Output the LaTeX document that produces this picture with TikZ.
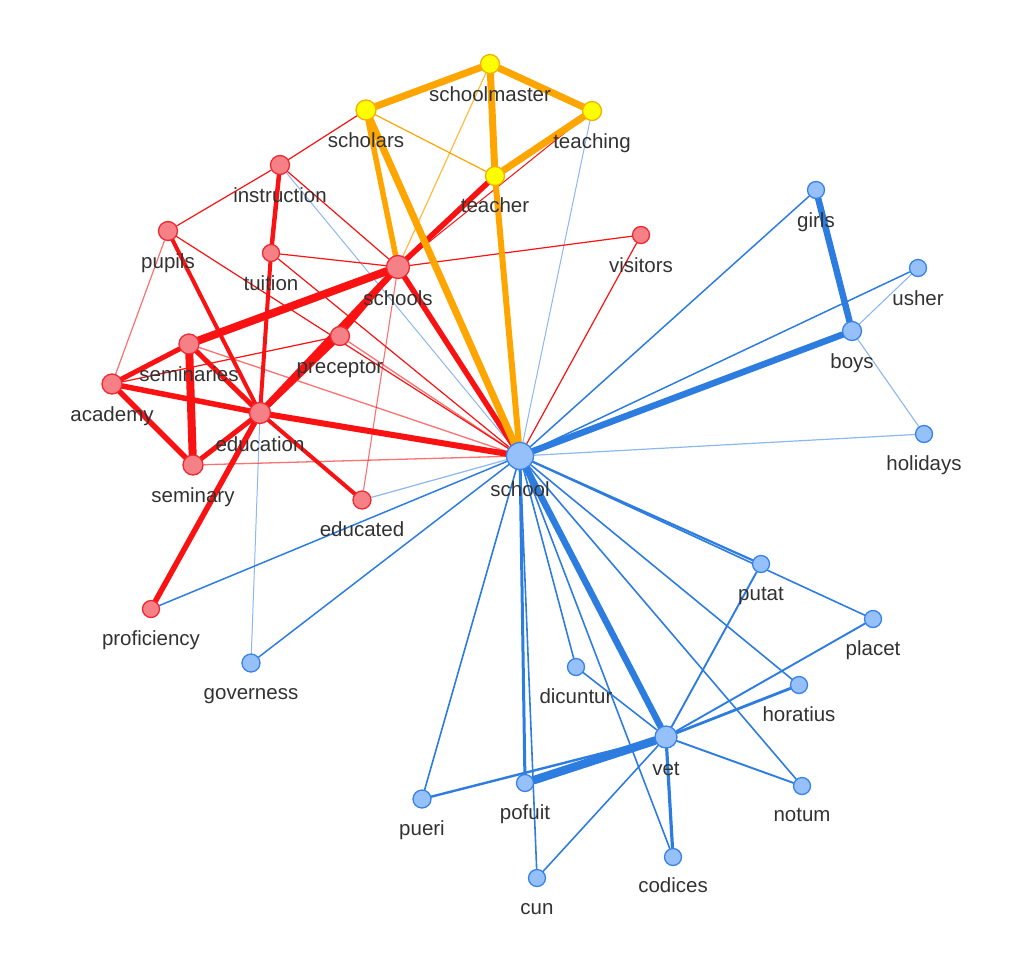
\documentclass[tikz,border=0pt]{standalone}
\usepackage{fontspec}
\setmainfont{Liberation Sans}
\usetikzlibrary{backgrounds}
\definecolor{ered}{RGB}{250,18,18}
\definecolor{eorange}{RGB}{255,165,0}
\definecolor{eblue}{RGB}{45,125,225}
\definecolor{nredf}{RGB}{245,128,134}
\definecolor{nredb}{RGB}{240,40,50}
\definecolor{nyelf}{RGB}{255,255,0}
\definecolor{nyelb}{RGB}{245,175,0}
\definecolor{nbluef}{RGB}{150,192,250}
\definecolor{nblueb}{RGB}{55,130,230}
\definecolor{lbltext}{RGB}{50,50,50}
\newcommand\gn[6]{\node[#4] (#1) at (#2,#3) {}; \node[lbl] (#1-l) at (#2,#3+#6) {#5};}
\begin{document}
\begin{tikzpicture}[x=1pt,y=-1pt,
  lbl/.style={text=lbltext, font=\fontsize{20.5}{24}\selectfont, anchor=base, inner sep=0pt},
  rn/.style={circle, draw=nredb, fill=nredf, line width=1.3pt, inner sep=0pt, minimum size=#1},
  rn/.default=17pt,
  yn/.style={circle, draw=nyelb, fill=nyelf, line width=1.3pt, inner sep=0pt, minimum size=#1},
  yn/.default=19pt,
  bn/.style={circle, draw=nblueb, fill=nbluef, line width=1.3pt, inner sep=0pt, minimum size=#1},
  bn/.default=17pt,
  rE/.style={draw=ered, line width=#1, line cap=round},
  rL/.style={draw=ered, draw opacity=0.6, line width=#1},
  oE/.style={draw=eorange, line width=#1, line cap=round},
  oL/.style={draw=eorange, draw opacity=0.75, line width=#1},
  bE/.style={draw=eblue, line width=#1, line cap=round},
  bL/.style={draw=eblue, draw opacity=0.55, line width=#1},
]
\useasboundingbox (0,0) rectangle (1019,969);
% nodes
\gn{schoolmaster}{490}{64}{yn=19pt}{schoolmaster}{37}
\gn{scholars}{366}{110}{yn=20pt}{scholars}{37}
\gn{teaching}{592}{111}{yn=19pt}{teaching}{37}
\gn{teacher}{495}{176}{yn=19pt}{teacher}{36}
\gn{instruction}{280}{165}{rn=19pt}{instruction}{37}
\gn{pupils}{168}{231}{rn=19pt}{pupils}{37}
\gn{tuition}{271}{253}{rn=17pt}{tuition}{37}
\gn{schools}{398}{267}{rn=23pt}{schools}{38}
\gn{visitors}{641}{235}{rn=17pt}{visitors}{37}
\gn{preceptor}{340}{336}{rn=19pt}{preceptor}{37}
\gn{seminaries}{189}{344}{rn=20pt}{seminaries}{37}
\gn{academy}{112}{384}{rn=20pt}{academy}{37}
\gn{education}{260}{413}{rn=21pt}{education}{38}
\gn{seminary}{193}{465}{rn=20pt}{seminary}{37}
\gn{educated}{362}{500}{rn=18pt}{educated}{36}
\gn{proficiency}{151}{609}{rn=17pt}{proficiency}{36}
\gn{governess}{251}{663}{bn=18pt}{governess}{36}
\gn{school}{520}{456}{bn=27pt}{school}{40}
\gn{girls}{816}{190}{bn=17pt}{girls}{37}
\gn{usher}{918}{268}{bn=17pt}{usher}{37}
\gn{boys}{852}{331}{bn=19pt}{boys}{37}
\gn{holidays}{924}{434}{bn=17pt}{holidays}{36}
\gn{putat}{761}{564}{bn=17pt}{putat}{36}
\gn{placet}{873}{619}{bn=17pt}{placet}{36}
\gn{dicuntur}{576}{667}{bn=17pt}{dicuntur}{36}
\gn{horatius}{799}{685}{bn=17pt}{horatius}{36}
\gn{vet}{666}{737}{bn=22pt}{vet}{38}
\gn{pofuit}{525}{783}{bn=17pt}{pofuit}{36}
\gn{pueri}{422}{799}{bn=18pt}{pueri}{36}
\gn{notum}{802}{786}{bn=17pt}{notum}{35}
\gn{codices}{673}{857}{bn=17pt}{codices}{35}
\gn{cun}{537}{878}{bn=17pt}{cun}{36}
% edges
\begin{scope}[on background layer]
% blue
\draw[bL=1] (instruction) -- (school);
\draw[bL=1] (teaching) -- (school);
\draw[bL=1] (education) -- (governess);
\draw[bL=1.2] (educated) -- (school);
\draw[bE=1.5] (proficiency) -- (school);
\draw[bE=1.5] (governess) -- (school);
\draw[bE=1.5] (school) -- (girls);
\draw[bE=1.5] (school) -- (usher);
\draw[bE=6.5] (school) -- (boys);
\draw[bL=1.2] (school) -- (holidays);
\draw[bE=6.5] (girls) -- (boys);
\draw[bL=1.1] (boys) -- (usher);
\draw[bL=1.1] (boys) -- (holidays);
\draw[bE=2.2] (school) -- (putat);
\draw[bE=1.6] (school) -- (placet);
\draw[bE=1.6] (school) -- (horatius);
\draw[bE=1.6] (school) -- (notum);
\draw[bE=6.5] (school) -- (vet);
\draw[bE=1.6] (school) -- (codices);
\draw[bE=1.6] (school) -- (dicuntur);
\draw[bE=3] (school) -- (pofuit);
\draw[bE=1.6] (school) -- (cun);
\draw[bE=1.6] (school) -- (pueri);
\draw[bE=1.9] (putat) -- (vet);
\draw[bE=1.9] (placet) -- (vet);
\draw[bE=2.8] (horatius) -- (vet);
\draw[bE=1.6] (dicuntur) -- (vet);
\draw[bE=1.9] (vet) -- (notum);
\draw[bE=3.2] (vet) -- (codices);
\draw[bE=1.6] (vet) -- (cun);
\draw[bE=8.5] (vet) -- (pofuit);
\draw[bE=2.4] (pueri) -- (vet);
% red
\draw[rE=1.2] (instruction) -- (scholars);
\draw[rE=4.5] (instruction) -- (tuition);
\draw[rE=1.2] (instruction) -- (pupils);
\draw[rE=1.2] (instruction) -- (schools);
\draw[rE=1.2] (tuition) -- (schools);
\draw[rE=4] (tuition) -- (education);
\draw[rE=1.2] (tuition) -- (school);
\draw[rE=4] (pupils) -- (education);
\draw[rL=1.2] (pupils) -- (academy);
\draw[rE=1.2] (pupils) -- (school);
\draw[rE=8] (schools) -- (seminaries);
\draw[rE=6.5] (schools) -- (education);
\draw[rE=5.5] (preceptor) -- (education);
\draw[rE=3.5] (preceptor) -- (schools);
\draw[rE=5.5] (schools) -- (teacher);
\draw[rE=5.5] (schools) -- (school);
\draw[rE=1.2] (schools) -- (visitors);
\draw[rL=1.1] (schools) -- (educated);
\draw[rE=1.2] (visitors) -- (school);
\draw[rE=1] (teaching) -- (schools);
\draw[rE=5] (seminaries) -- (academy);
\draw[rE=8] (seminaries) -- (seminary);
\draw[rE=5] (seminaries) -- (education);
\draw[rL=1.3] (seminaries) -- (school);
\draw[rE=1.2] (academy) -- (preceptor);
\draw[rE=5.5] (academy) -- (education);
\draw[rE=5.5] (academy) -- (seminary);
\draw[rE=5] (seminary) -- (education);
\draw[rL=1.3] (seminary) -- (school);
\draw[rE=6] (education) -- (school);
\draw[rE=4] (education) -- (educated);
\draw[rE=5.5] (education) -- (proficiency);
\draw[rL=1.3] (preceptor) -- (school);
% orange
\draw[oE=7] (scholars) -- (schoolmaster);
\draw[oE=7] (schoolmaster) -- (teaching);
\draw[oE=7] (schoolmaster) -- (teacher);
\draw[oE=7] (teacher) -- (teaching);
\draw[oE=5.5] (scholars) -- (schools);
\draw[oE=7] (scholars) -- (school);
\draw[oE=6] (teacher) -- (school);
\draw[oE=1.2] (scholars) -- (teacher);
\draw[oL=1.2] (schoolmaster) -- (schools);
\end{scope}
\end{tikzpicture}
\end{document}
